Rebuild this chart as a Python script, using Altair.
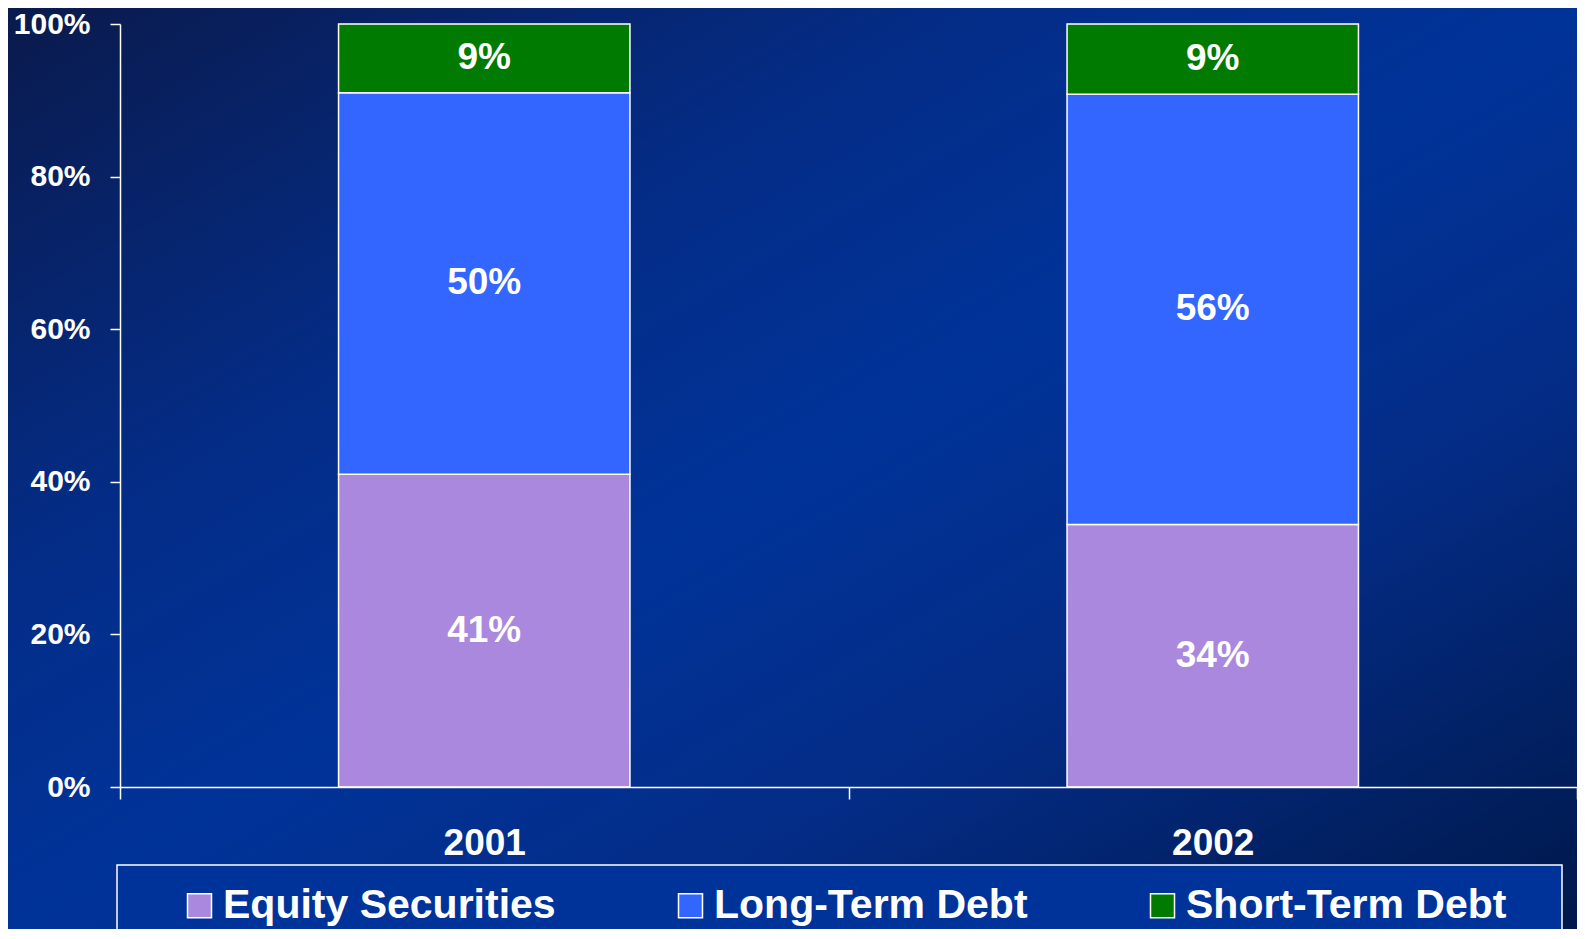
import altair as alt
import pandas as pd

years = ["2001", "2002"]
categories = ["Equity Securities", "Long-Term Debt", "Short-Term Debt"]
equity = [41.0, 34.4]
long_term = [50.0, 56.4]
short_term = [9.0, 9.2]
colors = ["#aa88dd", "#3366ff", "#007a00"]
y_ticks = [0, 20, 40, 60, 80, 100]

rows = []
for i, y in enumerate(years):
    for k, (cat, series) in enumerate(zip(categories, [equity, long_term, short_term])):
        rows.append({"year": y, "category": cat, "value": series[i], "order": k})
df = pd.DataFrame(rows)

FONT = "Liberation Sans"
W, H = 1457, 763
PAD = {"left": 112, "top": 16, "right": 0, "bottom": 142}

bg = alt.Chart(pd.DataFrame({"k": [0]})).mark_rect(
    clip=False,
    color=alt.Gradient(
        gradient="linear",
        x1=0, y1=0, x2=1, y2=1,
        stops=[
            alt.GradientStop(color="#0a1a4c", offset=0),
            alt.GradientStop(color="#042c86", offset=0.3),
            alt.GradientStop(color="#003399", offset=0.5),
            alt.GradientStop(color="#042c86", offset=0.7),
            alt.GradientStop(color="#00184a", offset=1),
        ],
    ),
).encode(
    x=alt.value(-PAD["left"]), x2=alt.value(W + 2),
    y=alt.value(-PAD["top"]), y2=alt.value(H + PAD["bottom"])
)

x_enc = alt.X(
    "year:N",
    scale=alt.Scale(paddingInner=0, paddingOuter=0),
    axis=alt.Axis(
        title=None, labelAngle=0, tickBand="extent", tickSize=12, tickWidth=1.5,
        tickColor="white", domainColor="white", domainWidth=1.5,
        labelColor="white", labelFont=FONT, labelFontSize=37, labelFontWeight="bold",
        labelPadding=26, zindex=1,
    ),
)
y_enc = alt.Y(
    "value:Q",
    stack="zero",
    scale=alt.Scale(domain=[0, 100]),
    axis=alt.Axis(
        title=None, values=y_ticks, labelExpr="datum.value + '%'", grid=False,
        tickSize=10, tickWidth=1.5, tickColor="white", domainColor="white", domainWidth=1.5,
        labelColor="white", labelFont=FONT, labelFontSize=30, labelFontWeight="bold",
        labelPadding=20, zindex=1,
    ),
)

bars = alt.Chart(df).mark_bar(
    stroke="white", strokeWidth=1.5, width=alt.RelativeBandSize(0.4)
).encode(
    x=x_enc,
    y=y_enc,
    color=alt.Color(
        "category:N",
        scale=alt.Scale(domain=categories, range=colors),
        legend=alt.Legend(
            title="\u00a0", titleOrient="right", titleFontSize=8, titlePadding=36,
            orient="none", legendX=-3, legendY=841, direction="horizontal",
            fillColor="#003399", strokeColor="white", padding=20,
            symbolType="square", symbolSize=576, symbolStrokeColor="white",
            symbolStrokeWidth=1.5, symbolOffset=42, columnPadding=72,
            labelColor="white", labelFont=FONT, labelFontSize=41, labelFontWeight="bold",
            labelOffset=3, labelLimit=700,
        ),
    ),
    order=alt.Order("order:Q"),
)

labels = alt.Chart(df).transform_stack(
    stack="value", groupby=["year"], as_=["v0", "v1"], sort=[alt.SortField("order")]
).transform_calculate(
    mid="(datum.v0 + datum.v1) / 2",
    label="format(datum.value, '.0f') + '%'",
).mark_text(
    color="white", font=FONT, fontSize=37, fontWeight="bold", baseline="middle"
).encode(
    x="year:N",
    y=alt.Y("mid:Q"),
    text="label:N",
)

chart = alt.layer(bg, bars, labels).properties(
    width=W, height=H, autosize="none", padding=PAD, background="#06235f",
).configure_view(stroke=None).configure_legend(strokeWidth=1.5)

chart.save("out.html", embed_options={"renderer": "svg", "actions": False})
